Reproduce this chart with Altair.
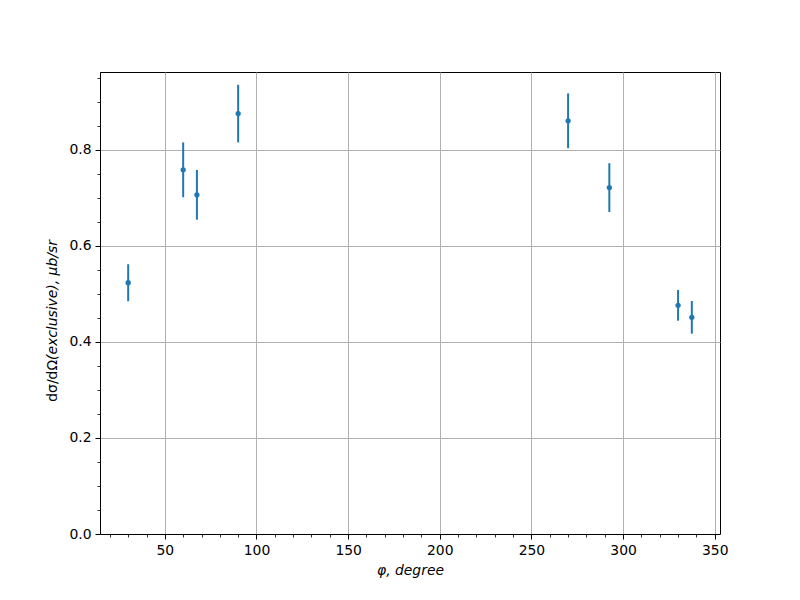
import altair as alt
import pandas as pd

# data
phi = [30, 60, 67.5, 90, 270, 292.5, 330, 337.5]
xsec = [0.523, 0.758, 0.706, 0.875, 0.860, 0.721, 0.476, 0.451]
err = [0.0385, 0.057, 0.0517, 0.060, 0.057, 0.0507, 0.032, 0.034]

x_major = [50, 100, 150, 200, 250, 300, 350]
x_minor = [20, 30, 40, 60, 70, 80, 90, 110, 120, 130, 140, 160, 170, 180, 190,
           210, 220, 230, 240, 260, 270, 280, 290, 310, 320, 330, 340]
y_major = [0.0, 0.2, 0.4, 0.6, 0.8]
y_minor = [0.05, 0.1, 0.15, 0.25, 0.3, 0.35, 0.45, 0.5, 0.55, 0.65, 0.7, 0.75, 0.85, 0.9, 0.95]

x_domain = [14.625, 352.875]
y_domain = [0.0, 0.9616]

df = pd.DataFrame({"phi": phi, "val": xsec, "err": err})
df["lo"] = df["val"] - df["err"]
df["hi"] = df["val"] + df["err"]

FONT = "DejaVu Sans"
FS = 13.9
BLUE = "#1f77b4"

xscale = alt.Scale(domain=x_domain, nice=False, zero=False)
yscale = alt.Scale(domain=y_domain, nice=False, zero=False)

x_axis = alt.Axis(values=x_major, title="φ, degree", titleFontStyle="italic",
                  titleFontWeight="normal", titleFont=FONT, titleFontSize=FS,
                  titleColor="black", titlePadding=7, format="d",
                  labelFont=FONT, labelFontSize=FS, labelColor="black",
                  labelPadding=4, tickSize=5, tickColor="black", tickWidth=1,
                  domainColor="black", domainWidth=1, grid=True,
                  gridColor="#b0b0b0", gridWidth=1, orient="bottom",
                  labelFlush=False, labelOverlap=False)
y_axis = alt.Axis(values=y_major, title=None, format=".1f",
                  labelFont=FONT, labelFontSize=FS, labelColor="black",
                  labelPadding=4, tickSize=5, tickColor="black", tickWidth=1,
                  domainColor="black", domainWidth=1, grid=True,
                  gridColor="#b0b0b0", gridWidth=1, orient="left",
                  labelFlush=False, labelOverlap=False)

x_minor_axis = alt.Axis(values=x_minor, title=None, labels=False, domain=False,
                        grid=False, tickSize=3, tickColor="black", tickWidth=0.8,
                        orient="bottom")
y_minor_axis = alt.Axis(values=y_minor, title=None, labels=False, domain=False,
                        grid=False, tickSize=3, tickColor="black", tickWidth=0.8,
                        orient="left")

base = alt.Chart(df)

rules = base.mark_rule(color=BLUE, strokeWidth=2).encode(
    x=alt.X("phi:Q", scale=xscale, axis=x_axis),
    y=alt.Y("lo:Q", scale=yscale, axis=y_axis),
    y2="hi:Q",
)

points = base.mark_circle(color=BLUE, size=28, opacity=1).encode(
    x=alt.X("phi:Q", scale=xscale, axis=None),
    y=alt.Y("val:Q", scale=yscale, axis=None),
)

minor = base.mark_point(opacity=0).encode(
    x=alt.X("phi:Q", scale=xscale, axis=x_minor_axis),
    y=alt.Y("val:Q", scale=yscale, axis=y_minor_axis),
)

label_df = pd.DataFrame({"a": ["dσ/dΩ"], "b": ["(exclusive), μb/sr"]})

ylab1 = alt.Chart(label_df).mark_text(
    angle=270, align="right", baseline="middle", font=FONT, fontSize=FS,
    color="black"
).encode(text="a:N", x=alt.value(-47), y=alt.value(288))

ylab2 = alt.Chart(label_df).mark_text(
    angle=270, align="left", baseline="middle", font=FONT, fontSize=FS,
    fontStyle="italic", color="black"
).encode(text="b:N", x=alt.value(-47), y=alt.value(288))

chart = alt.layer(minor, rules, points, ylab1, ylab2).resolve_axis(
    x="independent", y="independent"
).properties(
    width=620, height=462,
    autosize=alt.AutoSizeParams(type="none"),
    padding={"left": 92, "top": 64, "right": 72, "bottom": 58},
    background="white",
).configure_view(stroke="black", strokeWidth=1)

chart.save("out.html", embed_options={"renderer": "svg", "actions": False})
